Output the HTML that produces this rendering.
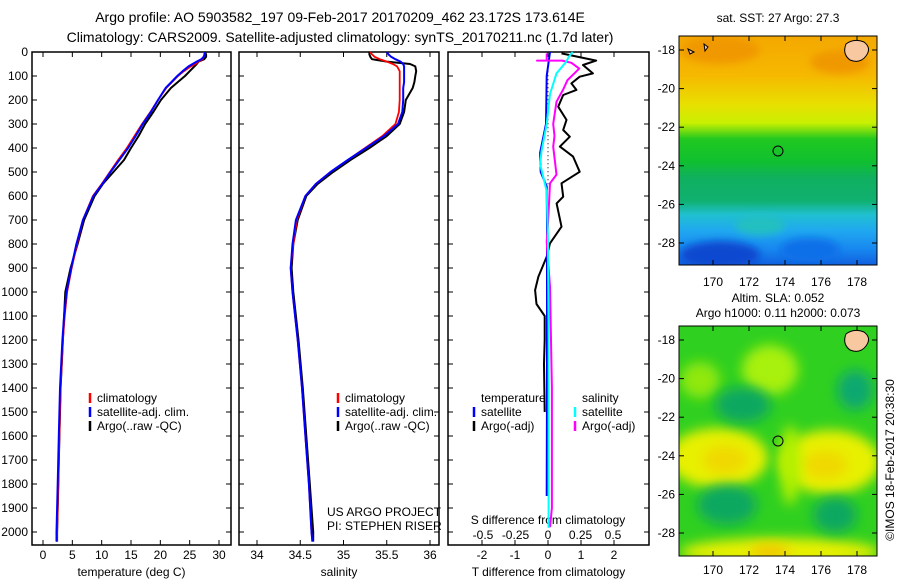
<!DOCTYPE html>
<html><head><meta charset="utf-8">
<style>
html,body{margin:0;padding:0;background:#fff;width:900px;height:580px;overflow:hidden}
svg{display:block;font-family:"Liberation Sans",sans-serif}
text{font-size:12px;fill:#000}
</style></head>
<body>
<svg id="chart" width="900" height="580" viewBox="0 0 900 580" xmlns="http://www.w3.org/2000/svg">
<defs>
<filter id="blur1" x="-50%" y="-50%" width="200%" height="200%"><feGaussianBlur stdDeviation="4"/></filter>
<filter id="blur2" x="-50%" y="-50%" width="200%" height="200%"><feGaussianBlur stdDeviation="6"/></filter>
<clipPath id="m1clip"><rect x="679" y="36" width="198" height="229"/></clipPath>
<clipPath id="m2clip"><rect x="679" y="326" width="198" height="230"/></clipPath>
<linearGradient id="sstGrad" x1="0" y1="0" x2="0" y2="1">
<stop offset="0" stop-color="#f4a800"/><stop offset="0.17" stop-color="#f6b800"/>
<stop offset="0.3" stop-color="#e8e000"/><stop offset="0.38" stop-color="#c8f000"/>
<stop offset="0.45" stop-color="#20c820"/><stop offset="0.55" stop-color="#10c030"/>
<stop offset="0.62" stop-color="#10b060"/><stop offset="0.72" stop-color="#10b070"/>
<stop offset="0.78" stop-color="#20c0d0"/><stop offset="0.85" stop-color="#20a8f0"/>
<stop offset="0.93" stop-color="#1888f0"/><stop offset="1" stop-color="#1060e0"/>
</linearGradient>
</defs>
<g id="titles">
<text x="340" y="22" text-anchor="middle" style="font-size:14px">Argo profile: AO 5903582_197 09-Feb-2017 20170209_462 23.172S 173.614E</text>
<text x="340" y="42" text-anchor="middle" style="font-size:14px">Climatology: CARS2009. Satellite-adjusted climatology: synTS_20170211.nc (1.7d later)</text>
<text x="778" y="22" text-anchor="middle">sat. SST: 27 Argo: 27.3</text>
<text x="778" y="302" text-anchor="middle">Altim. SLA: 0.052</text>
<text x="778" y="317" text-anchor="middle">Argo h1000: 0.11 h2000: 0.073</text>
<text transform="translate(894,460) rotate(-90)" text-anchor="middle">©IMOS 18-Feb-2017 20:38:30</text>
</g>
<g id="maps">
<g clip-path="url(#m1clip)">
<rect x="679" y="36" width="198" height="229" fill="url(#sstGrad)"/>
<ellipse cx="720" cy="50" rx="40" ry="14" fill="#f09800" filter="url(#blur1)"/>
<ellipse cx="840" cy="62" rx="30" ry="12" fill="#f09800" filter="url(#blur1)"/>
<ellipse cx="720" cy="255" rx="40" ry="14" fill="#0848d0" filter="url(#blur1)"/>
<ellipse cx="810" cy="250" rx="30" ry="12" fill="#1070e8" filter="url(#blur1)"/>
<ellipse cx="760" cy="225" rx="25" ry="10" fill="#20c0c0" filter="url(#blur1)"/>
<path d="M846,44 q8,-6 18,-2 q8,6 2,14 q-6,8 -16,4 q-8,-6 -4,-16z" fill="#f8c8a0" stroke="#000" stroke-width="1"/>
<path d="M704,44 l4,3 l-3,4z M688,49 l6,3 l-4,2z" fill="#f8c8a0" stroke="#000" stroke-width="1"/>
</g>
<rect x="679" y="36" width="198" height="229" fill="none" stroke="#000" stroke-width="1"/>
<g clip-path="url(#m2clip)">
<rect x="679" y="326" width="198" height="230" fill="#30d020"/>
<ellipse cx="770" cy="370" rx="28" ry="25" fill="#a8f010" filter="url(#blur2)"/>
<ellipse cx="700" cy="380" rx="20" ry="18" fill="#90e810" filter="url(#blur2)"/>
<ellipse cx="718" cy="458" rx="50" ry="30" fill="#e8f000" filter="url(#blur2)"/>
<ellipse cx="830" cy="462" rx="50" ry="32" fill="#e8f000" filter="url(#blur2)"/>
<ellipse cx="725" cy="460" rx="22" ry="14" fill="#f0d800" filter="url(#blur2)"/>
<ellipse cx="825" cy="465" rx="22" ry="14" fill="#f0d800" filter="url(#blur2)"/>
<ellipse cx="780" cy="552" rx="100" ry="14" fill="#e8f000" filter="url(#blur2)"/>
<ellipse cx="770" cy="552" rx="20" ry="8" fill="#f0c800" filter="url(#blur2)"/>
<ellipse cx="790" cy="465" rx="10" ry="40" fill="#b0f000" filter="url(#blur2)"/>
<ellipse cx="743" cy="405" rx="28" ry="18" fill="#10a860" filter="url(#blur2)"/>
<ellipse cx="855" cy="390" rx="18" ry="20" fill="#10a870" filter="url(#blur2)"/>
<ellipse cx="727" cy="505" rx="30" ry="20" fill="#10a860" filter="url(#blur2)"/>
<ellipse cx="835" cy="515" rx="22" ry="18" fill="#10a860" filter="url(#blur2)"/>
<path d="M846,334 q8,-6 18,-2 q8,6 2,14 q-6,8 -16,4 q-8,-6 -4,-16z" fill="#f8c8a0" stroke="#000" stroke-width="1"/>
</g>
<rect x="679" y="326" width="198" height="230" fill="none" stroke="#000" stroke-width="1"/>
<circle cx="778" cy="151" r="5" fill="none" stroke="#000"/>
<circle cx="778" cy="441" r="5" fill="none" stroke="#000"/>
</g>
<g id="dyn"></g>
</svg>
<script>
// ---- data ----
const depths = [0,10,20,30,40,50,60,80,100,125,150,200,250,300,350,400,450,500,550,600,700,800,900,1000,1100,1200,1400,1600,1800,2000,2040];
const tempClim = [27.5,27.5,27.4,27.2,26.5,26,25.2,24,23,22,21,19.6,18.3,16.9,15.6,14.3,12.8,11.4,10,8.5,6.8,5.8,4.9,4.1,3.7,3.4,3.0,2.8,2.6,2.4,2.4];
const tempSat = [27.6,27.6,27.4,27,26.2,25.5,24.8,23.8,22.9,21.9,20.9,19.6,18.4,17.0,15.8,14.5,13.0,11.5,10.1,8.6,6.8,5.7,4.8,4.0,3.6,3.3,2.9,2.7,2.5,2.3,2.3];
const tempArgo = [27.6,27.8,27.8,27.5,26.5,26.2,25.8,25,24.2,23,21.8,20.1,18.8,17.4,16.3,15.0,13.8,12.0,10.2,8.8,7.0,5.9,4.7,3.8,3.6,3.4,3.0,2.8,2.6,2.4,2.4];
const salClim = [35.31,35.33,35.36,35.42,35.5,35.57,35.62,35.65,35.65,35.65,35.65,35.65,35.64,35.6,35.45,35.25,35.05,34.85,34.68,34.56,34.46,34.42,34.39,34.41,34.44,34.47,34.52,34.56,34.6,34.63,34.64];
const salSat = [35.5,35.52,35.55,35.6,35.66,35.69,35.7,35.7,35.7,35.7,35.69,35.69,35.68,35.63,35.47,35.26,35.05,34.85,34.68,34.56,34.45,34.41,34.39,34.41,34.44,34.47,34.52,34.56,34.6,34.63,34.64];
const salArgo = [35.3,35.3,35.31,35.33,35.5,35.77,35.83,35.84,35.83,35.82,35.8,35.72,35.7,35.65,35.5,35.3,35.08,34.88,34.7,34.57,34.47,34.42,34.4,34.42,34.45,34.48,34.53,34.57,34.61,34.65,34.65];
const tdArgoDepth = [6,36,54,89,103,131,158,179,228,283,325,353,394,436,499,547,603,631,728,797,853,936,992,1050,1100,1200,1300,1500];
const tdArgo = [0.41,1.46,1.06,1.36,0.96,0.71,0.86,0.46,0.31,0.56,0.46,0.66,0.36,0.76,0.96,0.41,0.46,0.26,0.41,0.06,-0.04,-0.29,-0.39,-0.35,-0.1,-0.1,-0.12,-0.1];
const tdSatDepth = [0,100,300,420,500,560,700,1000,1400,1850];
const tdSat = [0.06,-0.04,-0.06,-0.24,-0.22,-0.04,-0.03,-0.03,-0.03,-0.04];
const sdSatDepth = [0,20,41,89,175,300,413,469,525,580,790,1200,1600,1983];
const sdSat = [0.19,0.16,0.14,0.065,0.015,-0.01,-0.05,-0.06,-0.035,-0.01,0,0.005,0.005,0.005];
const sdArgoDepth = [6,36,36,36,45,69,80,117,158,207,300,350,394,511,547,714,790,978,1400,1900,1980];
const sdArgo = [-0.01,-0.01,-0.085,0.11,0.18,0.24,0.22,0.15,0.115,0.065,0.04,0.05,0.04,0.065,0.015,0,-0.01,0.015,0.03,0.03,0.015];
const depthTicks = [0,100,200,300,400,500,600,700,800,900,1000,1100,1200,1300,1400,1500,1600,1700,1800,1900,2000];
const tempTicks = [0,5,10,15,20,25,30];
const salTicks = [34,34.5,35,35.5,36];
const tdTicks = [-2,-1,0,1,2];
const sdTicks = [-0.5,-0.25,0,0.25,0.5];
const map1Lat = [-18,-20,-22,-24,-26,-28];
const map2Lat = [-18,-20,-22,-24,-26,-28];
const mapLon = [170,172,174,176,178];

const NS='http://www.w3.org/2000/svg';
const root=document.getElementById('dyn');
function mk(tag,attrs,parent){const e=document.createElementNS(NS,tag);for(const k in attrs)e.setAttribute(k,attrs[k]);(parent||root).appendChild(e);return e;}
function txt(x,y,s,anchor,parent){const t=mk('text',{x:x,y:y,'text-anchor':anchor||'middle'},parent);t.textContent=s;return t;}

const TOP=52,BOT=545;
const yD=d=>TOP+d*0.24;
function lin(v0,p0,v1,p1){return v=>p0+(v-v0)*(p1-p0)/(v1-v0);}

function panel(name,L,R,xScale,ticks,fmt,label,leftLabels){
  const g=mk('g',{});
  
  
  mk('rect',{x:L,y:TOP,width:R-L,height:BOT-TOP,fill:'none',stroke:'#000','stroke-width':1.5},g);
  depthTicks.forEach(d=>{
    const y=yD(d);
    mk('line',{x1:L,y1:y,x2:L+5,y2:y,stroke:'#000'},g);
    mk('line',{x1:R-5,y1:y,x2:R,y2:y,stroke:'#000'},g);
    if(leftLabels){const t=txt(L-4,y+4,String(d),'end',g);}
  });
  ticks.forEach(v=>{
    const x=xScale(v);
    mk('line',{x1:x,y1:BOT,x2:x,y2:BOT-5,stroke:'#000'},g);
    mk('line',{x1:x,y1:TOP,x2:x,y2:TOP+5,stroke:'#000'},g);
    const t=txt(x,BOT+14,fmt(v),'middle',g);
    
    
  });
  const lt=txt((L+R)/2,BOT+31,label,'middle',g);
  
  
  return g;
}
function series(name,xs,ds,xScale,color,w,g){
  const pts=xs.map((v,i)=>xScale(v).toFixed(1)+','+yD(ds[i]).toFixed(1)).join(' ');
  const p=mk('polyline',{points:pts,fill:'none',stroke:color,'stroke-width':w,'stroke-linejoin':'round'},g);
  
  
}
function legend(g,x,y,color,label){
  mk('line',{x1:x,y1:y-9,x2:x,y2:y+1,stroke:color,'stroke-width':2.5},g);
  const t=txt(x+7,y,label,'start',g);
  
  
}

// Panel 1 temperature
const xT=lin(0,43,30,219);
const g1=panel('temperature-panel',32,231,xT,tempTicks,String,'temperature (deg C)',true);
series('temp-argo',tempArgo,depths,xT,'#000',2,g1);
series('temp-climatology',tempClim,depths,xT,'#f00',1.8,g1);
series('temp-satellite-adj',tempSat,depths,xT,'#00f',2,g1);
legend(g1,90,402,'#f00','climatology');
legend(g1,90,416,'#00f','satellite-adj. clim.');
legend(g1,90,430,'#000','Argo(..raw -QC)');

// Panel 2 salinity
const xS=lin(34,257,36,430);
const g2=panel('salinity-panel',239,439,xS,salTicks,String,'salinity',false);
series('sal-argo',salArgo,depths,xS,'#000',2,g2);
series('sal-climatology',salClim,depths,xS,'#f00',1.8,g2);
series('sal-satellite-adj',salSat,depths,xS,'#00f',2,g2);
legend(g2,338,402,'#f00','climatology');
legend(g2,338,416,'#00f','satellite-adj. clim.');
legend(g2,338,430,'#000','Argo(..raw -QC)');
const c1=txt(327,516,'US ARGO PROJECT','start',g2);


const c2=txt(327,530,'PI: STEPHEN RISER','start',g2);



// Panel 3 differences
const xTd=lin(0,548,2,614);
const xSd=lin(0,548,0.5,613);
const g3=panel('difference-panel',448,649,xTd,tdTicks,String,'T difference from climatology',false);
sdTicks.forEach(v=>{
  const t=txt(xSd(v),BOT-6,String(v),'middle',g3);
  
  
});
const st=txt(548,BOT-21,'S difference from climatology','middle',g3);


const zl=mk('line',{x1:xTd(0),y1:yD(80),x2:xTd(0),y2:yD(560),stroke:'#000','stroke-dasharray':'1,3'},g3);


series('t-diff-argo',tdArgo,tdArgoDepth,xTd,'#000',2,g3);
series('t-diff-satellite',tdSat,tdSatDepth,xTd,'#00f',2,g3);
series('s-diff-argo',sdArgo,sdArgoDepth,xSd,'#f0f',2,g3);
series('s-diff-satellite',sdSat,sdSatDepth,xSd,'#0ff',2,g3);
const lh1=txt(481,402,'temperature','start',g3);


const lh2=txt(582,402,'salinity','start',g3);


legend(g3,474,416,'#00f','satellite');
legend(g3,474,430,'#000','Argo(-adj)');
legend(g3,575,416,'#0ff','satellite');
legend(g3,575,430,'#f0f','Argo(-adj)');

// Map axes
function mapAxes(name,frameTop,frameBot,yA,yB,lats,lonLabelY){
  const g=mk('g',{});
  
  
  const yL=lin(-18,yA,-28,yB);
  const xL=lin(170,713,178,857);
  lats.forEach(v=>{
    const y=yL(v);
    mk('line',{x1:679,y1:y,x2:684,y2:y,stroke:'#000'},g);
    mk('line',{x1:872,y1:y,x2:877,y2:y,stroke:'#000'},g);
    const t=txt(675,y+4,String(v),'end',g);
    
    
  });
  mapLon.forEach(v=>{
    const x=xL(v);
    mk('line',{x1:x,y1:frameBot,x2:x,y2:frameBot-5,stroke:'#000'},g);
    mk('line',{x1:x,y1:frameTop,x2:x,y2:frameTop+5,stroke:'#000'},g);
    const t=txt(x,lonLabelY,String(v),'middle',g);
    
    
  });
}
mapAxes('sst-map-axes',36,265,50,243,map1Lat,286);
mapAxes('sla-map-axes',326,556,340,533,map2Lat,574);
</script>
</body></html>
